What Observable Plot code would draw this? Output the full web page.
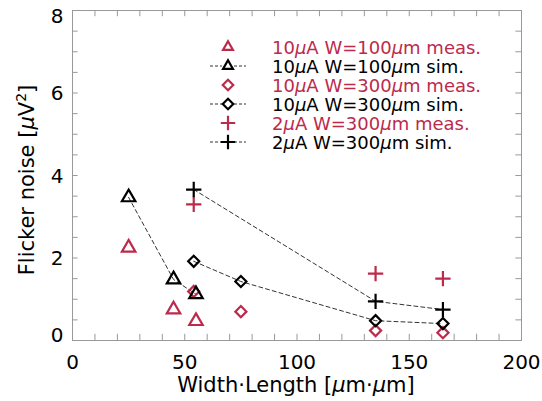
<!DOCTYPE html>
<html><head><meta charset="utf-8">
<script src="https://cdn.jsdelivr.net/npm/d3@7"></script>
<script src="https://cdn.jsdelivr.net/npm/@observablehq/plot@0.6"></script>
<style>
html,body{margin:0;padding:0;background:#fff;}
#chart{width:542px;height:401px;}
</style></head>
<body><div id="chart"></div>
<script>
// ---- data ----
const xMeas100 = [25, 45, 55];
const yMeas100 = [2.25, 0.75, 0.47];
const xSim100 = [25, 45, 55];
const ySim100 = [3.47, 1.48, 1.12];
const xMeas300 = [54, 75, 135, 165];
const yMeas300 = [1.19, 0.70, 0.24, 0.19];
const xSim300 = [54, 75, 135, 165];
const ySim300 = [1.92, 1.43, 0.48, 0.41];
const xMeas2 = [54, 135, 165];
const yMeas2 = [3.30, 1.62, 1.50];
const xSim2 = [54, 135, 165];
const ySim2 = [3.66, 0.95, 0.75];
const xTicks = [0, 50, 100, 150, 200];
const yTicks = [0, 2, 4, 6, 8];
const xMinor = d3.range(0, 201, 10);
const yMinor = d3.range(0, 8.01, 0.5);
const legendLabels = [
  ["10", "A W=100", "m meas."],
  ["10", "A W=100", "m sim."],
  ["10", "A W=300", "m meas."],
  ["10", "A W=300", "m sim."],
  ["2", "A W=300", "m meas."],
  ["2", "A W=300", "m sim."]
];
const legendSymbols = ["triangle", "triangle", "diamond2", "diamond2", "plus", "plus"];
const legendSim = [false, true, false, true, false, true];

const RED = "#bc2a4c";
const FONT = "DejaVu Sans, Verdana, sans-serif";
const rows = (xs, ys) => xs.map((x, i) => ({x, y: ys[i]}));

const dash = {stroke: "#333", strokeWidth: 1, strokeDasharray: "4,3"};
const sym = (data, symbol, color) => Plot.dot(data, {x: "x", y: "y", symbol: () => symbol, stroke: color, strokeWidth: 2.2, r: 5, fill: "none"});
const yLab = (vals, dy) => Plot.text(vals, {x: 0, y: d => d, text: d => String(d), dx: -9, dy, textAnchor: "end", fontSize: 20, fill: "#000"});

const chart = Plot.plot({
  width: 542, height: 401,
  marginLeft: 72, marginRight: 21, marginTop: 10, marginBottom: 61,
  x: {domain: [0, 200]},
  y: {domain: [0, 8], axis: null},
  symbol: {type: "identity"},
  style: {fontFamily: FONT, fontSize: "20px", color: "#000", background: "#fff", overflow: "visible"},
  marks: [
    Plot.frame({stroke: "#999", strokeWidth: 1}),
    Plot.ruleX(xMinor, {x: d => d, y1: 0, y2: 0.15, stroke: "#999"}),
    Plot.ruleX(xMinor, {x: d => d, y1: 8, y2: 7.85, stroke: "#999"}),
    Plot.ruleY(yMinor, {y: d => d, x1: 0, x2: 2.5, stroke: "#999"}),
    Plot.ruleY(yMinor, {y: d => d, x1: 200, x2: 197.5, stroke: "#999"}),
    Plot.axisX({ticks: xTicks, tickSize: 0, tickPadding: 14, label: null, fontSize: 20}),
    yLab(yTicks.filter(v => v > 0 && v < 8), 1),
    yLab(yTicks.filter(v => v === 0), -5),
    yLab(yTicks.filter(v => v === 8), 6),
    Plot.line(rows(xSim100, ySim100), {x: "x", y: "y", ...dash}),
    Plot.line(rows(xSim300, ySim300), {x: "x", y: "y", ...dash}),
    Plot.line(rows(xSim2, ySim2), {x: "x", y: "y", ...dash}),
    sym(rows(xMeas100, yMeas100), "triangle", RED),
    sym(rows(xMeas300, yMeas300), "diamond2", RED),
    sym(rows(xMeas2, yMeas2), "plus", RED),
    sym(rows(xSim100, ySim100), "triangle", "#000"),
    sym(rows(xSim300, ySim300), "diamond2", "#000"),
    sym(rows(xSim2, ySim2), "plus", "#000")
  ]
});
document.getElementById("chart").appendChild(chart);

const svg = d3.select(chart);
// axis titles
const xt = svg.append("text").attr("x", 296).attr("y", 392).attr("text-anchor", "middle")
  .attr("font-family", FONT).attr("font-size", 21).attr("fill", "#000");
xt.append("tspan").text("Width\u00b7Length [");
xt.append("tspan").attr("font-style", "italic").text("\u00b5");
xt.append("tspan").text("m\u00b7");
xt.append("tspan").attr("font-style", "italic").text("\u00b5");
xt.append("tspan").text("m]");

const yt = svg.append("text").attr("transform", "translate(34,180) rotate(-90)").attr("text-anchor", "middle")
  .attr("font-family", FONT).attr("font-size", 21).attr("fill", "#000");
yt.append("tspan").text("Flicker noise [");
yt.append("tspan").attr("font-style", "italic").text("\u00b5");
yt.append("tspan").text("V");
yt.append("tspan").attr("font-size", 14).attr("dy", -8).text("2");
yt.append("tspan").attr("dy", 8).text("]");

// legend
const symMap = {triangle: d3.symbolTriangle2, diamond2: d3.symbolDiamond2, plus: d3.symbolPlus};
const lg = svg.append("g");
legendLabels.forEach((lab, i) => {
  const y = 47 + i * 19;
  const color = legendSim[i] ? "#000" : RED;
  if (legendSim[i]) {
    lg.append("line").attr("x1", 210).attr("x2", 222).attr("y1", y).attr("y2", y).attr("stroke", "#333").attr("stroke-dasharray", "3,2");
    lg.append("line").attr("x1", 234).attr("x2", 246).attr("y1", y).attr("y2", y).attr("stroke", "#333").attr("stroke-dasharray", "3,2");
  }
  lg.append("path").attr("transform", `translate(228,${y})`)
    .attr("d", d3.symbol(symMap[legendSymbols[i]], 70)())
    .attr("fill", "none").attr("stroke", color).attr("stroke-width", 2.2);
  const t = lg.append("text").attr("x", 272).attr("y", y + 6.5).attr("text-anchor", "start")
    .attr("font-family", FONT).attr("font-size", 18).attr("fill", color);
  t.append("tspan").text(lab[0]);
  t.append("tspan").attr("font-style", "italic").text("\u00b5");
  t.append("tspan").text(lab[1]);
  t.append("tspan").attr("font-style", "italic").text("\u00b5");
  t.append("tspan").text(lab[2]);
});
</script></body></html>
